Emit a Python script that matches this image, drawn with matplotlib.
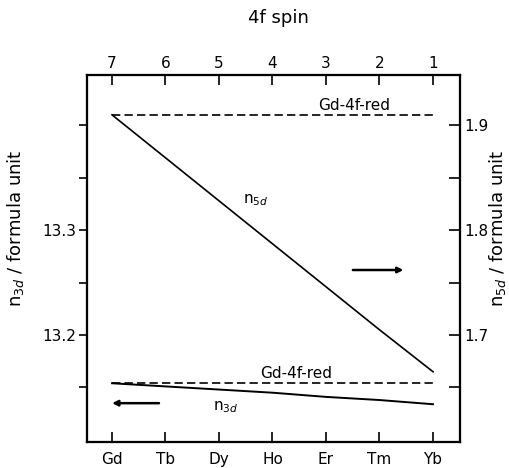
import numpy as np
import matplotlib.pyplot as plt
from matplotlib.ticker import FixedLocator, NullFormatter

plt.rcParams['font.family'] = ['DejaVu Sans']

elements = ['Gd', 'Tb', 'Dy', 'Ho', 'Er', 'Tm', 'Yb']
spin = ['7', '6', '5', '4', '3', '2', '1']
n3d = [13.154, 13.151, 13.148, 13.145, 13.141, 13.138, 13.134]
n3d_gd4f = [13.154, 13.154, 13.154, 13.154, 13.154, 13.154, 13.154]
n5d = [1.910, 1.869, 1.828, 1.787, 1.746, 1.705, 1.665]
n5d_gd4f = [1.910, 1.910, 1.910, 1.910, 1.910, 1.910, 1.910]

x = np.arange(len(elements))

fig = plt.figure(figsize=(5.10, 4.68), dpi=100)
ax = fig.add_axes([0.1706, 0.0556, 0.7314, 0.7842])
ax2 = ax.twinx()
ax3 = ax.twiny()

ax.plot(x, n3d, color='black', lw=1.4)
ax.plot(np.append(x, x[-1] + 0.08), n3d_gd4f + [n3d_gd4f[-1]], color='black', lw=1.2, ls=(0, (5, 2.5)))
ax2.plot(x, n5d, color='black', lw=1.2)
ax2.plot(np.append(x, x[-1] + 0.08), n5d_gd4f + [n5d_gd4f[-1]], color='black', lw=1.2, ls=(0, (5, 2.5)))

ax.set_xlim(-0.467, 6.505)
ax.set_ylim(13.098, 13.448)
ax2.set_ylim(1.598, 1.948)
ax3.set_xlim(ax.get_xlim())

ax.set_xticks(x)
ax.set_xticklabels(elements)
ax3.set_xticks(x)
ax3.set_xticklabels(spin)

ax.yaxis.set_major_locator(FixedLocator([13.2, 13.3]))
ax.yaxis.set_minor_locator(FixedLocator([13.15, 13.25, 13.35, 13.4]))
ax.yaxis.set_minor_formatter(NullFormatter())
ax2.yaxis.set_major_locator(FixedLocator([1.7, 1.8, 1.9]))
ax2.yaxis.set_minor_locator(FixedLocator([1.65, 1.75, 1.85]))
ax2.yaxis.set_minor_formatter(NullFormatter())

ax.tick_params(axis='x', direction='in', length=7, width=1.2, labelsize=11, pad=7)
ax3.tick_params(axis='x', direction='in', length=7, width=1.2, labelsize=11, pad=3)
ax.tick_params(axis='y', which='both', direction='out', length=6, width=1.2, labelsize=11, pad=2)
ax2.tick_params(axis='y', which='both', direction='in', length=8, width=1.2, labelsize=11, pad=3)

for a in (ax, ax2, ax3):
    for s in a.spines.values():
        s.set_linewidth(1.5)

# axis titles placed in figure coords to fit the narrow margins
fig.text(0.030, 0.513, 'n$_{3d}$ / formula unit', fontsize=13, rotation=90, ha='center', va='center')
fig.text(0.975, 0.513, 'n$_{5d}$ / formula unit', fontsize=13, rotation=90, ha='center', va='center')
fig.text(0.545, 0.962, '4f spin', fontsize=13, ha='center', va='center')

ax2.text(4.52, 1.912, 'Gd-4f-red', fontsize=11, ha='center', va='bottom')
ax.text(3.44, 13.156, 'Gd-4f-red', fontsize=11, ha='center', va='bottom')
ax2.text(2.69, 1.829, 'n$_{5d}$', fontsize=11, ha='center', va='center')
ax.text(2.13, 13.131, 'n$_{3d}$', fontsize=11, ha='center', va='center')

ax.annotate('', xy=(-0.05, 13.135), xytext=(0.93, 13.135),
            arrowprops=dict(arrowstyle='-|>', color='black', lw=1.8, mutation_scale=8))
ax2.annotate('', xy=(5.5, 1.762), xytext=(4.45, 1.762),
             arrowprops=dict(arrowstyle='-|>', color='black', lw=1.8, mutation_scale=8))

fig.savefig('out.png', dpi=100)
